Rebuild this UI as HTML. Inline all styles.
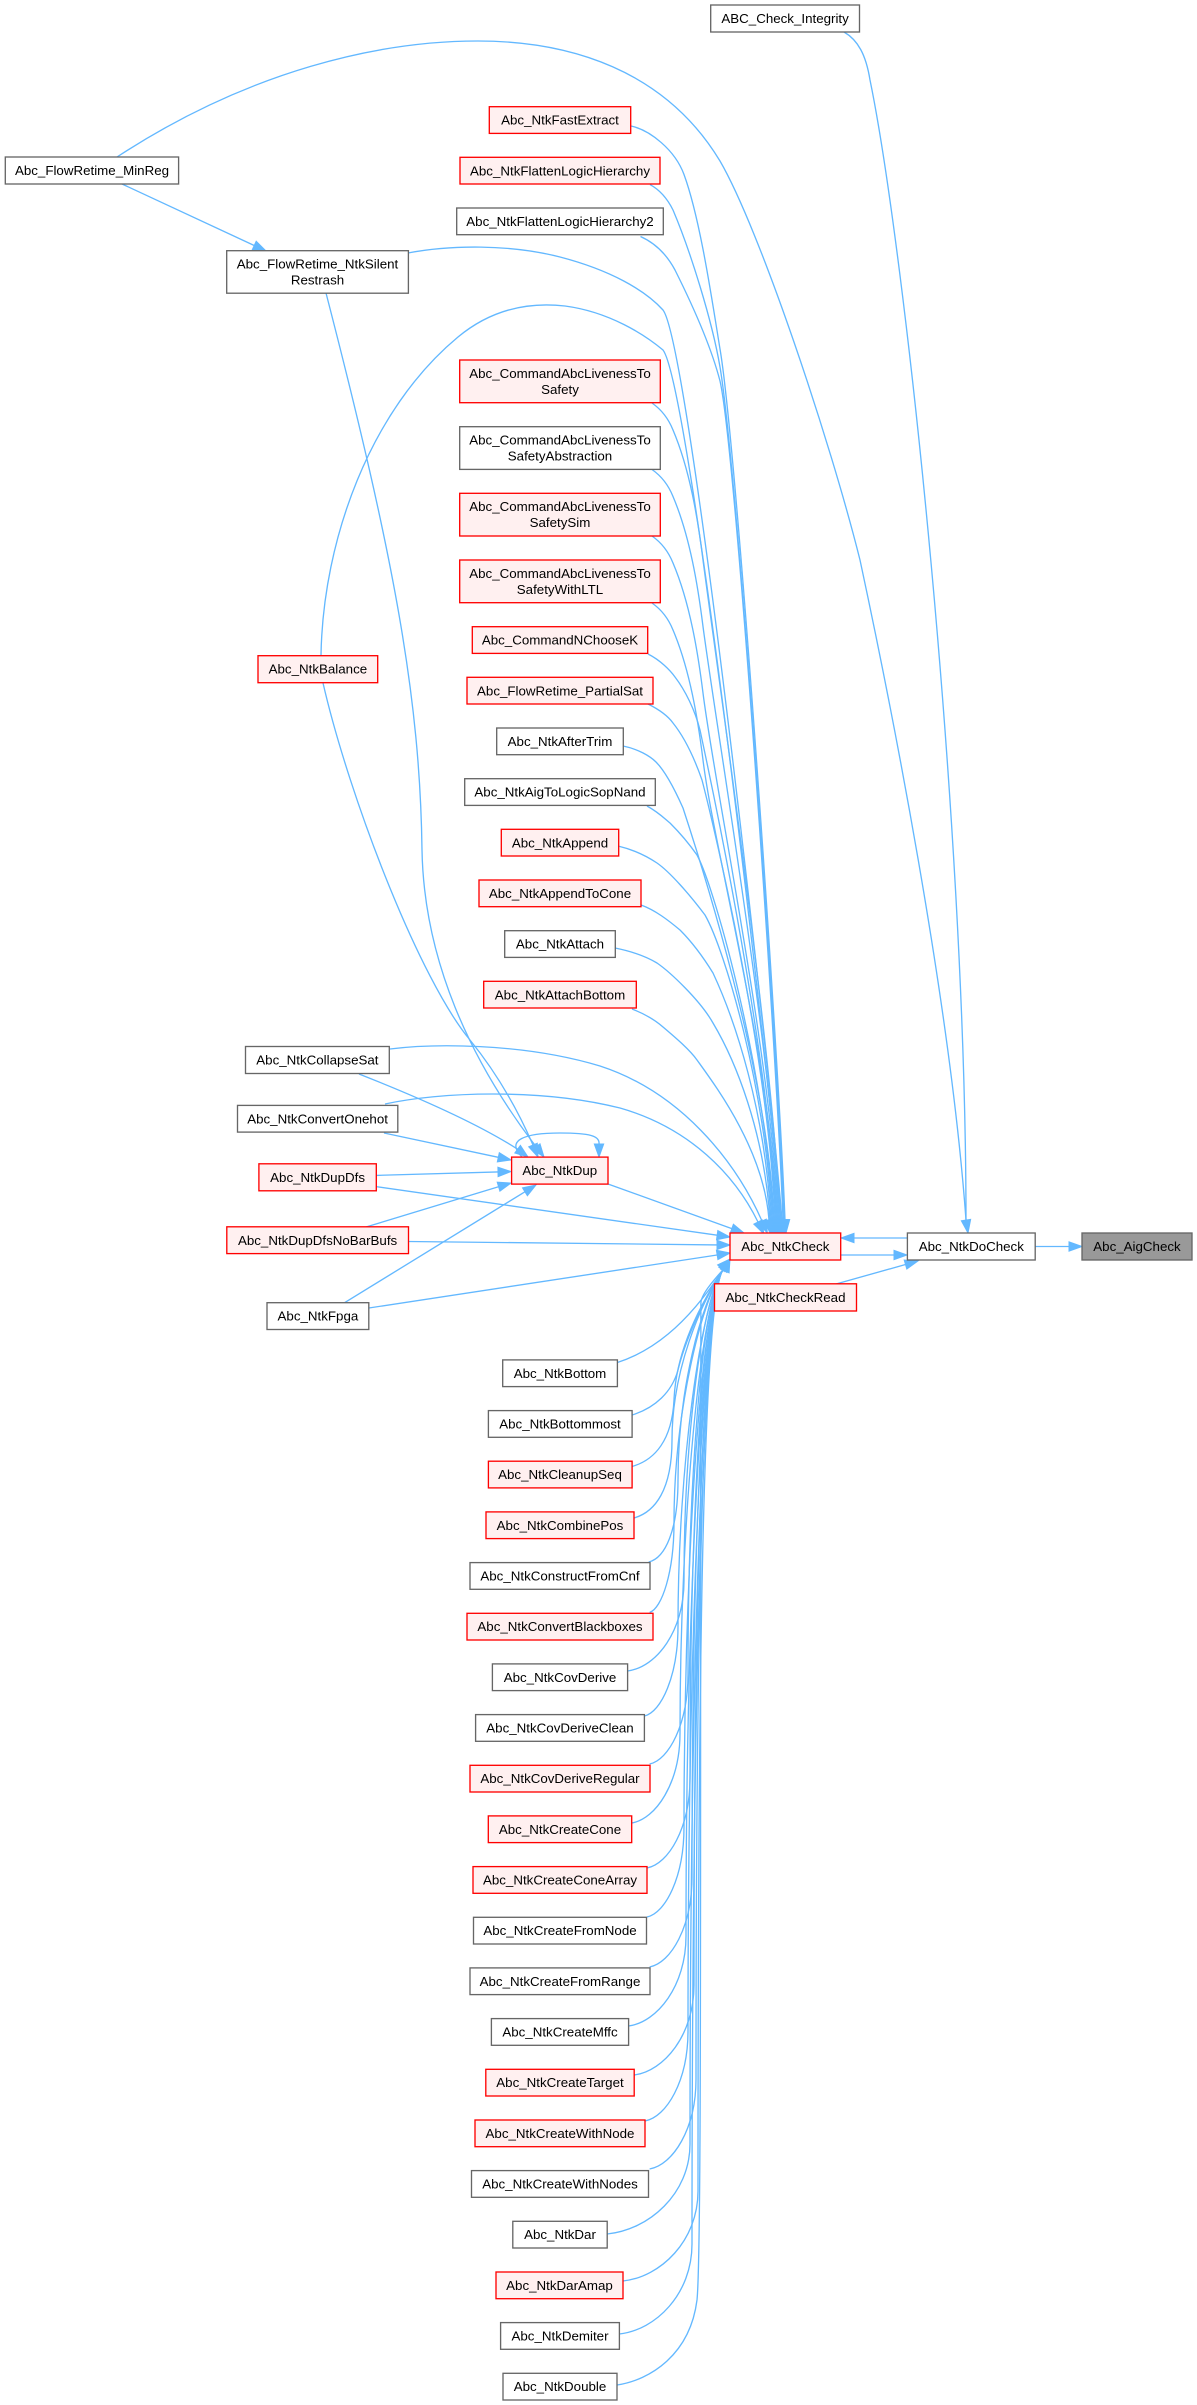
<!DOCTYPE html>
<html><head><meta charset="utf-8"><style>
html,body{margin:0;padding:0;background:#fff}
svg{display:block}
.e{fill:none;stroke:#63b8ff;stroke-width:1.33}
.a{fill:#63b8ff;stroke:#63b8ff;stroke-width:1}
.r rect{fill:#fff0f0;stroke:#ff0000;stroke-width:1.33}
.g rect{fill:#ffffff;stroke:#666666;stroke-width:1.33}
.k rect{fill:#999999;stroke:#666666;stroke-width:1.33}
text{font-family:"Liberation Sans",Arial,sans-serif;font-size:13.33px;fill:#000;text-anchor:middle}
</style></head><body>
<svg width="1197" height="2405" viewBox="0 0 1197 2405" xmlns="http://www.w3.org/2000/svg">
<!-- edges -->
<g class="e">
<!-- right side -->
<path d="M1035.2,1246.5 L1069,1246.5"/>
<path d="M907.4,1238 L854,1238"/>
<path d="M840.7,1255 L894,1255"/>
<path d="M836,1284 L905.5,1264.5"/>
<path d="M844,32 C858,40 866,55 870,80 C905,250 966,820 966,1220"/>
<path d="M117,157 C250,70 380,41 478,41 C570,41 665,70 720,161 C760,230 830,440 860,560 C890,700 950,1000 966,1220"/>
<path d="M122,184 L254.2,245.5"/>
<!-- top column to NtkCheck -->
<path d="M631,126 C650,130 675,150 684,174.5 C700,218 712,300 720,349 C737,449 779,1060 785,1220"/>
<path d="M650,184.6 C660,190 668,200 673,210 C690,250 712,320 720,367 C737,467 778,1060 784,1220"/>
<path d="M640.5,236.5 C655,243 667,255 675,270 C695,310 712,350 720,381 C736,450 777,1060 783,1220"/>
<path d="M408,253 C450,245 510,244 560,257 C610,270 645,290 663,310 C690,345 770,1070 782,1220"/>
<path d="M321,655 C323,540 370,410 458,337 C493,308 530,302 565,306 C610,312 645,335 663,350 C690,385 769,1070 781,1220"/>
<path d="M652,403 C662,410 669,420 673,430 C690,470 698,520 703,560 C716,660 774,1060 780,1220"/>
<path d="M652,469.5 C662,476.5 669,486.5 673,496.5 C690,536.5 698,586.5 703,626.5 C716,726 773,1060 779,1220"/>
<path d="M652,536 C662,543 669,553 673,563 C690,603 698,653 703,693 C715,790 772,1060 778,1220"/>
<path d="M652,603 C662,610 669,620 673,630 C690,670 698,720 703,760 C714,850 771,1060 777,1220"/>
<path d="M648,654 C660,660 670,670 675,677 C685,690 695,710 700,730 C715,800 770,1060 776,1220"/>
<path d="M648,704 C660,710 668,716 673,723 C685,738 695,760 702,780 C715,830 769,1060 775,1220"/>
<path d="M623,746 C638,749 650,756 656,762 C666,772 675,790 683,808 C700,860 768,1070 774,1220"/>
<path d="M647,806 C658,812 664,818 670,823 C682,835 690,845 697,855 C716,890 767,1080 773,1220"/>
<path d="M618,846 C635,850 648,857 657,863 C670,872 690,895 705,915 C725,950 766,1090 772,1220"/>
<path d="M641,905 C655,910 668,920 680,930 C695,945 705,960 713,973 C735,1020 765,1110 771,1220"/>
<path d="M615,948 C635,952 647,957 657,963 C670,972 700,1000 713,1023 C735,1060 764,1130 770,1220"/>
<path d="M632,1009 C645,1014 655,1020 663,1027 C676,1038 690,1050 697,1060 C715,1085 764,1150 769,1220"/>
<!-- left column -->
<path d="M390,1049 C430,1044 520,1042 600,1066 C680,1092 735,1160 762,1221"/>
<path d="M385,1104 C440,1092 540,1088 620,1108 C690,1128 735,1175 758,1222"/>
<path d="M326,293 C395,560 420,700 422,850 C424,960 470,1060 536,1146.6"/>
<path d="M323,683 C350,800 420,980 470,1040 C500,1077 520,1115 533,1145"/>
<path d="M522,1157 C505,1140 525,1133 560,1133 C590,1133 600,1136 599,1144"/>
<path d="M359,1074 C420,1098 480,1125 517.6,1149.2"/>
<path d="M384,1133 L498.3,1157.3"/>
<path d="M376,1175.4 L498,1171.9"/>
<path d="M366,1227 L498.5,1186.7"/>
<path d="M344.6,1302.7 L524.9,1191.8"/>
<path d="M608,1184 L731.8,1228.6"/>
<path d="M376,1186.6 L717.1,1235.2"/>
<path d="M408.5,1241.5 L717,1244.9"/>
<path d="M368.8,1308 L717.1,1255"/>
<!-- bottom column to NtkCheck -->
<path d="M617.4,1362.5 C650,1352 685,1328 722.9,1269.9"/>
<path d="M632,1415 C655,1408 672,1392 678,1370 C684,1345 700.9,1303.3 722.9,1269.9"/>
<path d="M632,1466.5 C655,1460 672,1440 674,1400 C676,1350 700.9,1303.3 722.9,1269.9"/>
<path d="M634,1518 C655,1512 672,1490 672,1440 C672,1370 700.9,1303.3 722.9,1269.9"/>
<path d="M648.7,1562 C665.4,1558 678,1530 678,1480 C678,1390 700.9,1303.3 722.9,1269.9"/>
<path d="M649.6,1612.5 C661.8,1608.5 674,1572.5 674,1522.5 C674,1413 700.9,1303.3 722.9,1269.9"/>
<path d="M627.6,1671 C656.8,1667 684,1631 684,1581 C684,1442 700.9,1303.3 722.9,1269.9"/>
<path d="M644.4,1716 C661.2,1712 678,1676 678,1626 C678,1465 700.9,1303.3 722.9,1269.9"/>
<path d="M649.6,1764 C668.8,1760 688,1724 688,1674 C688,1489 700.9,1303.3 722.9,1269.9"/>
<path d="M631.7,1823 C655.9,1819 680,1783 680,1733 C680,1518 700.9,1303.3 722.9,1269.9"/>
<path d="M647,1868 C668.5,1864 690,1828 690,1778 C690,1540 700.9,1303.3 722.9,1269.9"/>
<path d="M647,1917 C665.5,1913 684,1877 684,1827 C684,1565 700.9,1303.3 722.9,1269.9"/>
<path d="M649.6,1967 C670.8,1963 692,1927 692,1877 C692,1590 700.9,1303.3 722.9,1269.9"/>
<path d="M628.6,2026 C657.3,2022 686,1986 686,1936 C686,1620 700.9,1303.3 722.9,1269.9"/>
<path d="M634.2,2075 C664.1,2071 694,2035 694,1985 C694,1644 700.9,1303.3 722.9,1269.9"/>
<path d="M645,2121 C666.5,2117 688,2081 688,2031 C688,1667 700.9,1303.3 722.9,1269.9"/>
<path d="M649.6,2169 C672.8,2165 696,2129 696,2079 C696,1691 700.9,1303.3 722.9,1269.9"/>
<path d="M607.2,2234 C648.6,2230 690,2194 690,2144 C690,1723 700.9,1303.3 722.9,1269.9"/>
<path d="M623,2281 C660.5,2277 698,2241 698,2191 C698,1747 700.9,1303.3 722.9,1269.9"/>
<path d="M619.4,2334 C655.7,2330 692,2294 692,2244 C692,1773 700.9,1303.3 722.9,1269.9"/>
<path d="M617,2385 C650,2380 690,2355 697,2300 C702,2250 700,1799 700.9,1303.3 C701,1295 712,1282 722.9,1269.9"/>
</g>
<!-- arrowheads -->
<g class="a">
<polygon points="1082,1246.5 1069,1241.8 1069,1251.2"/>
<polygon points="841,1238 854,1233.3 854,1242.7"/>
<polygon points="907,1255 894,1250.3 894,1259.7"/>
<polygon points="918,1261 906.8,1269 904.2,1260"/>
<polygon points="968,1233 961.35,1220.8 970.65,1219.4"/>
<polygon points="266,251 252.2,249.8 256.2,241.2"/>
<!-- top arrows into NtkCheck -->
<polygon points="786,1233 780.3,1220.4 789.7,1219.6"/>
<polygon points="785,1233 779.3,1220.4 788.7,1219.6"/>
<polygon points="784,1233 778.3,1220.4 787.7,1219.6"/>
<polygon points="783,1233 777.3,1220.4 786.7,1219.6"/>
<polygon points="782,1233 776.3,1220.4 785.7,1219.6"/>
<polygon points="781,1233 775.3,1220.4 784.7,1219.6"/>
<polygon points="780,1233 774.3,1220.4 783.7,1219.6"/>
<polygon points="779,1233 773.3,1220.4 782.7,1219.6"/>
<polygon points="778,1233 772.3,1220.4 781.7,1219.6"/>
<polygon points="777,1233 771.3,1220.4 780.7,1219.6"/>
<polygon points="776,1233 770.3,1220.4 779.7,1219.6"/>
<polygon points="775,1233 769.3,1220.4 778.7,1219.6"/>
<polygon points="774,1233 768.3,1220.4 777.7,1219.6"/>
<polygon points="773,1233 767.3,1220.4 776.7,1219.6"/>
<polygon points="772,1233 766.3,1220.4 775.7,1219.6"/>
<polygon points="771,1233 765.3,1220.4 774.7,1219.6"/>
<polygon points="770,1233 764.3,1220.4 773.7,1219.6"/>
<polygon points="767.3,1232.9 757.7,1222.9 766.3,1219.1"/>
<polygon points="763.7,1233.7 753.8,1224.1 762.2,1219.9"/>
<!-- NtkDup arrows -->
<polygon points="544,1157 532.4,1149.4 540,1143.8"/>
<polygon points="538,1157 528.7,1146.8 537.3,1143.2"/>
<polygon points="599,1157 594.3,1144 603.7,1144"/>
<polygon points="528,1157 514.8,1153 520.4,1145.4"/>
<polygon points="511,1160 497.3,1161.9 499.3,1152.7"/>
<polygon points="511,1171.5 498.1,1176.6 497.9,1167.2"/>
<polygon points="511,1183 499.9,1191.2 497.2,1182.2"/>
<polygon points="536,1185 527.4,1195.8 522.5,1187.8"/>
<!-- left arrows into NtkCheck -->
<polygon points="744,1233 730.2,1233 733.4,1224.2"/>
<polygon points="730,1237 716.5,1239.8 717.8,1230.5"/>
<polygon points="730,1245 717,1249.6 717,1240.2"/>
<polygon points="730,1253 717.9,1259.6 716.4,1250.3"/>
<!-- bottom arrows into NtkCheck -->
<polygon points="730,1259 726.8,1272.4 718.9,1267.3"/>
<polygon points="730,1259 724.2,1271.5 717.6,1264.9"/>
<polygon points="730,1259 729.1,1272.9 720.5,1269.1"/>
</g>
<!-- nodes -->
<g class="g"><rect x="710.7" y="5" width="148.8" height="27"/><text x="785.1" y="23">ABC_Check_Integrity</text></g>
<g class="g"><rect x="5.3" y="157" width="173.3" height="27"/><text x="92" y="175.1">Abc_FlowRetime_MinReg</text></g>
<g class="r"><rect x="489.3" y="106.7" width="141.4" height="26.7"/><text x="560" y="124.6">Abc_NtkFastExtract</text></g>
<g class="r"><rect x="460" y="157.3" width="200" height="26.7"/><text x="560" y="175.3">Abc_NtkFlattenLogicHierarchy</text></g>
<g class="g"><rect x="456.7" y="208" width="206.6" height="26.7"/><text x="560" y="225.9">Abc_NtkFlattenLogicHierarchy2</text></g>
<g class="g"><rect x="226.7" y="250.7" width="181.7" height="42.5"/><text x="317.5" y="268.5">Abc_FlowRetime_NtkSilent</text><text x="317.5" y="284.5">Restrash</text></g>
<g class="r"><rect x="459.7" y="360" width="200.6" height="42.7"/><text x="560" y="377.8">Abc_CommandAbcLivenessTo</text><text x="560" y="393.8">Safety</text></g>
<g class="g"><rect x="459.7" y="426.7" width="200.6" height="42.7"/><text x="560" y="444.5">Abc_CommandAbcLivenessTo</text><text x="560" y="460.5">SafetyAbstraction</text></g>
<g class="r"><rect x="459.7" y="493.3" width="200.6" height="42.7"/><text x="560" y="511.2">Abc_CommandAbcLivenessTo</text><text x="560" y="527.2">SafetySim</text></g>
<g class="r"><rect x="459.7" y="560" width="200.6" height="42.7"/><text x="560" y="577.8">Abc_CommandAbcLivenessTo</text><text x="560" y="593.8">SafetyWithLTL</text></g>
<g class="r"><rect x="472.3" y="626.7" width="175.4" height="26.7"/><text x="560" y="644.6">Abc_CommandNChooseK</text></g>
<g class="r"><rect x="258" y="655.7" width="119.7" height="27"/><text x="317.9" y="673.7">Abc_NtkBalance</text></g>
<g class="r"><rect x="467" y="677.3" width="186" height="26.7"/><text x="560" y="695.3">Abc_FlowRetime_PartialSat</text></g>
<g class="g"><rect x="496.7" y="728" width="126.6" height="26.7"/><text x="560" y="746">Abc_NtkAfterTrim</text></g>
<g class="g"><rect x="464.7" y="778.7" width="190.6" height="26.7"/><text x="560" y="796.6">Abc_NtkAigToLogicSopNand</text></g>
<g class="r"><rect x="501.3" y="829.3" width="117.4" height="26.7"/><text x="560" y="847.3">Abc_NtkAppend</text></g>
<g class="r"><rect x="479" y="880" width="162" height="26.7"/><text x="560" y="897.9">Abc_NtkAppendToCone</text></g>
<g class="g"><rect x="504.7" y="930.7" width="110.6" height="26.7"/><text x="560" y="948.6">Abc_NtkAttach</text></g>
<g class="r"><rect x="483.7" y="981.3" width="152.6" height="26.7"/><text x="560" y="999.3">Abc_NtkAttachBottom</text></g>
<g class="g"><rect x="245.5" y="1046.5" width="143.8" height="27"/><text x="317.4" y="1064.5">Abc_NtkCollapseSat</text></g>
<g class="g"><rect x="237.5" y="1105.4" width="160.3" height="26.7"/><text x="317.6" y="1123.4">Abc_NtkConvertOnehot</text></g>
<g class="r"><rect x="258.9" y="1163.8" width="117.4" height="27"/><text x="317.6" y="1182">Abc_NtkDupDfs</text></g>
<g class="r"><rect x="511.6" y="1157.1" width="96.4" height="27"/><text x="559.8" y="1175.2">Abc_NtkDup</text></g>
<g class="r"><rect x="226.8" y="1226.8" width="181.7" height="26.8"/><text x="317.6" y="1244.8">Abc_NtkDupDfsNoBarBufs</text></g>
<g class="g"><rect x="267" y="1302.7" width="101.8" height="26.8"/><text x="317.9" y="1320.7">Abc_NtkFpga</text></g>
<g class="r"><rect x="730" y="1233" width="110.7" height="27"/><text x="785.3" y="1251.1">Abc_NtkCheck</text></g>
<g class="r"><rect x="714.5" y="1283.8" width="142" height="27.2"/><text x="785.5" y="1302">Abc_NtkCheckRead</text></g>
<g class="g"><rect x="907.4" y="1233" width="127.8" height="27"/><text x="971.3" y="1251.1">Abc_NtkDoCheck</text></g>
<g class="k"><rect x="1082" y="1233" width="110" height="27"/><text x="1137" y="1251.1">Abc_AigCheck</text></g>
<!-- bottom column -->
<g class="g"><rect x="502.7" y="1359.9" width="114.7" height="26.7"/><text x="560" y="1377.8">Abc_NtkBottom</text></g>
<g class="g"><rect x="488.4" y="1410.6" width="143.7" height="26.7"/><text x="560" y="1428.5">Abc_NtkBottommost</text></g>
<g class="r"><rect x="488.4" y="1461.2" width="143.7" height="26.7"/><text x="560" y="1479.1">Abc_NtkCleanupSeq</text></g>
<g class="r"><rect x="486" y="1511.9" width="148" height="26.7"/><text x="560" y="1529.8">Abc_NtkCombinePos</text></g>
<g class="g"><rect x="470" y="1562.6" width="180" height="26.7"/><text x="560" y="1580.5">Abc_NtkConstructFromCnf</text></g>
<g class="r"><rect x="467" y="1613.3" width="186" height="26.7"/><text x="560" y="1631.2">Abc_NtkConvertBlackboxes</text></g>
<g class="g"><rect x="492.4" y="1663.9" width="135.2" height="26.7"/><text x="560" y="1681.8">Abc_NtkCovDerive</text></g>
<g class="g"><rect x="475.6" y="1714.6" width="168.8" height="26.7"/><text x="560" y="1732.5">Abc_NtkCovDeriveClean</text></g>
<g class="r"><rect x="470" y="1765.3" width="180" height="26.7"/><text x="560" y="1783.2">Abc_NtkCovDeriveRegular</text></g>
<g class="r"><rect x="488.3" y="1815.9" width="143.4" height="26.7"/><text x="560" y="1833.8">Abc_NtkCreateCone</text></g>
<g class="r"><rect x="473" y="1866.6" width="174" height="26.7"/><text x="560" y="1884.5">Abc_NtkCreateConeArray</text></g>
<g class="g"><rect x="473.5" y="1917.3" width="173" height="26.7"/><text x="560" y="1935.2">Abc_NtkCreateFromNode</text></g>
<g class="g"><rect x="470" y="1967.9" width="180" height="26.7"/><text x="560" y="1985.8">Abc_NtkCreateFromRange</text></g>
<g class="g"><rect x="491.4" y="2018.6" width="137.2" height="26.7"/><text x="560" y="2036.5">Abc_NtkCreateMffc</text></g>
<g class="r"><rect x="485.8" y="2069.3" width="148.4" height="26.7"/><text x="560" y="2087.2">Abc_NtkCreateTarget</text></g>
<g class="r"><rect x="475" y="2120" width="170" height="26.7"/><text x="560" y="2137.9">Abc_NtkCreateWithNode</text></g>
<g class="g"><rect x="471.5" y="2170.6" width="177" height="26.7"/><text x="560" y="2188.5">Abc_NtkCreateWithNodes</text></g>
<g class="g"><rect x="512.8" y="2221.3" width="94.4" height="26.7"/><text x="560" y="2239.2">Abc_NtkDar</text></g>
<g class="r"><rect x="496" y="2272" width="127" height="26.7"/><text x="559.5" y="2289.9">Abc_NtkDarAmap</text></g>
<g class="g"><rect x="500.6" y="2322.6" width="118.8" height="26.7"/><text x="560" y="2340.5">Abc_NtkDemiter</text></g>
<g class="g"><rect x="503" y="2373.3" width="114" height="26.7"/><text x="560" y="2391.2">Abc_NtkDouble</text></g>
</svg>
</body></html>
